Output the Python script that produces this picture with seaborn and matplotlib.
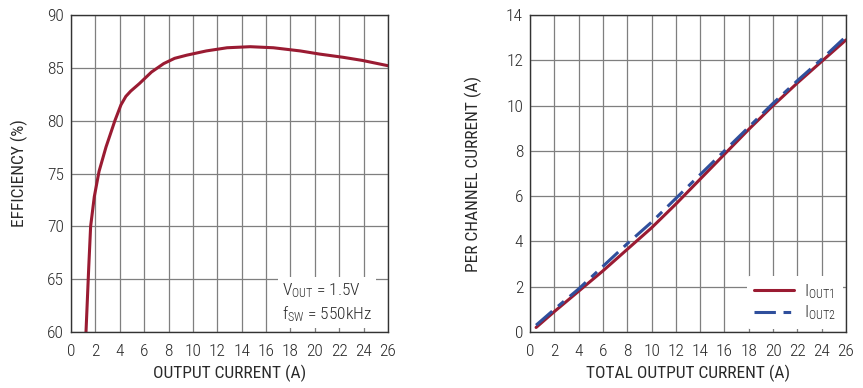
import matplotlib
matplotlib.use("Agg")
import matplotlib.pyplot as plt
import seaborn as sns
import pandas as pd

# Efficiency data
eff_current = [1.23, 1.45, 1.61, 1.91, 2.3, 2.87, 3.6, 4.1, 4.5, 4.9, 5.6, 6.6, 7.6, 8.5, 9.5,
               11.1, 12.8, 14.7, 16.6, 18.8, 20.4, 22.3, 23.9, 26.0]
eff_value = [60.0, 66.0, 70.0, 72.8, 75.2, 77.5, 80.0, 81.5, 82.3, 82.8, 83.5, 84.6, 85.4, 85.9, 86.2,
             86.6, 86.9, 87.0, 86.9, 86.6, 86.3, 86.0, 85.7, 85.2]

# Per channel current data
total_current = [0.5, 2, 4, 6, 8, 10, 12, 14, 16, 18, 20, 22, 24, 26]
iout1 = [0.2, 0.9, 1.8, 2.7, 3.65, 4.6, 5.65, 6.75, 7.85, 8.95, 10.0, 11.0, 11.95, 12.9]
iout2 = [0.3, 1.0, 1.9, 2.9, 3.9, 4.85, 5.9, 6.95, 8.0, 9.05, 10.1, 11.1, 12.05, 13.05]

x_ticks = list(range(0, 27, 2))
eff_ticks = [60, 65, 70, 75, 80, 85, 90]
ch_ticks = [0, 2, 4, 6, 8, 10, 12, 14]

RED = "#9a1b32"
BLUE = "#2f4f9c"
TXT = "#2a2a2a"

sns.set_theme(style="whitegrid")
plt.rcParams['font.family'] = ['Roboto Condensed', 'Archivo Narrow', 'PT Sans Narrow',
                               'Liberation Sans Narrow', 'DejaVu Sans']
plt.rcParams['font.weight'] = 300
plt.rcParams['mathtext.default'] = 'regular'

fig = plt.figure(figsize=(8.63, 3.88), dpi=100)
ax1 = fig.add_axes([71/863, 1-332/388, 317/863, 317/388])
ax2 = fig.add_axes([530/863, 1-332/388, 316/863, 317/388])

df1 = pd.DataFrame({"x": eff_current, "y": eff_value})
sns.lineplot(data=df1, x="x", y="y", ax=ax1, color=RED, linewidth=2.2, sort=False)

df2 = pd.DataFrame({"x": total_current, "y1": iout1, "y2": iout2})
sns.lineplot(data=df2, x="x", y="y1", ax=ax2, color=RED, linewidth=2.2, label="$I_{OUT1}$")
sns.lineplot(data=df2, x="x", y="y2", ax=ax2, color=BLUE, linewidth=2.2, label="$I_{OUT2}$")
ax2.lines[1].set_dashes([7, 2.5, 2.5, 2.5])

for ax in (ax1, ax2):
    ax.set_xlim(0, 26)
    ax.set_xticks(x_ticks)
    ax.grid(True, color="#7f7f7f", linewidth=0.9)
    for s in ax.spines.values():
        s.set_color("#333333")
        s.set_linewidth(1.0)
    ax.tick_params(axis="y", length=0, labelsize=12.5, colors=TXT, pad=5)
    ax.tick_params(axis="x", length=0, labelsize=12.5, colors=TXT, pad=9)

ax1.set_ylim(60, 90)
ax1.set_yticks(eff_ticks)
ax2.set_ylim(0, 14)
ax2.set_yticks(ch_ticks)

ax1.set_xlabel("OUTPUT CURRENT (A)", fontsize=12.5, color=TXT, labelpad=4)
ax1.set_ylabel("EFFICIENCY (%)", fontsize=12.5, color=TXT, labelpad=14)
ax2.set_xlabel("TOTAL OUTPUT CURRENT (A)", fontsize=12.5, color=TXT, labelpad=4)
ax2.set_ylabel("PER CHANNEL CURRENT (A)", fontsize=12.5, color=TXT, labelpad=17)

ax1.text(0.665, 0.025, "$V_{OUT}$ = 1.5V\n$f_{SW}$ = 550kHz", transform=ax1.transAxes,
         fontsize=12.5, color=TXT, ha="left", va="bottom", linespacing=1.3,
         bbox=dict(facecolor="white", edgecolor="none", pad=3), zorder=5)

leg = ax2.legend(loc="lower right", frameon=True, fontsize=12.5, handlelength=2.3,
                 borderaxespad=0.15, labelspacing=0.15, handletextpad=0.6, borderpad=0.4)
leg.get_frame().set_edgecolor("none")
leg.get_frame().set_facecolor("white")
leg.get_frame().set_alpha(1)
for t in leg.get_texts():
    t.set_color(TXT)

fig.savefig("out.png", dpi=100)
